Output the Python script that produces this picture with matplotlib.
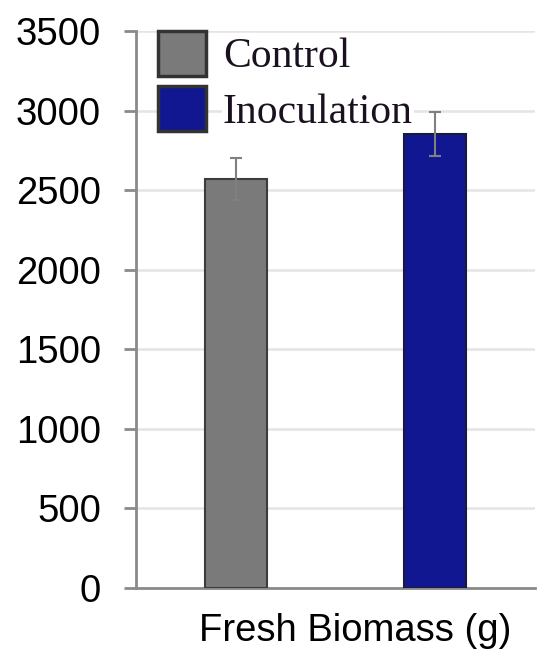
import matplotlib.pyplot as plt
from matplotlib.patches import Patch

groups = ['Control', 'Inoculation']
biomass = [2570, 2853]
errors = [132, 140]
bar_colors = ['#7a7a7a', '#111791']
edge_colors = ['#3c3c3c', '#1a1a3a']
yticks = [0, 500, 1000, 1500, 2000, 2500, 3000, 3500]
xlabel = 'Fresh Biomass (g)'

fig = plt.figure(figsize=(5.5, 6.6), dpi=100)
ax = fig.add_axes([0.247, 0.109, 0.726, 0.844])

x = list(range(len(groups)))
ax.bar(x, biomass, width=0.31, color=bar_colors, edgecolor=edge_colors,
       linewidth=1.5, zorder=3)
ax.errorbar(x, biomass, yerr=errors, fmt='none', ecolor='#808080',
            elinewidth=1.5, capsize=4.5, capthick=1.5, zorder=4)

ax.set_xlim(-0.5, 1.5)
ax.set_ylim(0, 3500)
ax.set_yticks(yticks)
ax.set_yticklabels([str(v) for v in yticks], fontsize=27.5, family='Liberation Sans')
ax.set_xticks([])
ax.set_xlabel(xlabel, fontsize=27.5, family='Liberation Sans', labelpad=10)
ax.xaxis.set_label_coords(0.549, -0.045, transform=ax.transAxes)
ax.xaxis.label.set_va('top')

ax.yaxis.grid(True, color='#e4e4e4', linewidth=1.8, zorder=0)
ax.set_axisbelow(True)
for side in ['top', 'right']:
    ax.spines[side].set_visible(False)
for side in ['left', 'bottom']:
    ax.spines[side].set_color('#8a8a8a')
    ax.spines[side].set_linewidth(2)
ax.tick_params(axis='y', length=9, width=2, color='#8a8a8a', pad=16)

handles = [Patch(facecolor=c, edgecolor='#333333', linewidth=2.5) for c in bar_colors]
leg = ax.legend(handles, groups, loc='upper left', bbox_to_anchor=(0.055, 1.0),
                frameon=False, borderpad=0, borderaxespad=0,
                handlelength=1.15, handleheight=1.28, labelspacing=0.24,
                handletextpad=0.41,
                prop={'family': 'Liberation Serif', 'size': 30})
for t in leg.get_texts():
    t.set_bbox(dict(facecolor='white', edgecolor='none', pad=1))
    t.set_color('#1a1020')

fig.savefig('out.png', dpi=100)
